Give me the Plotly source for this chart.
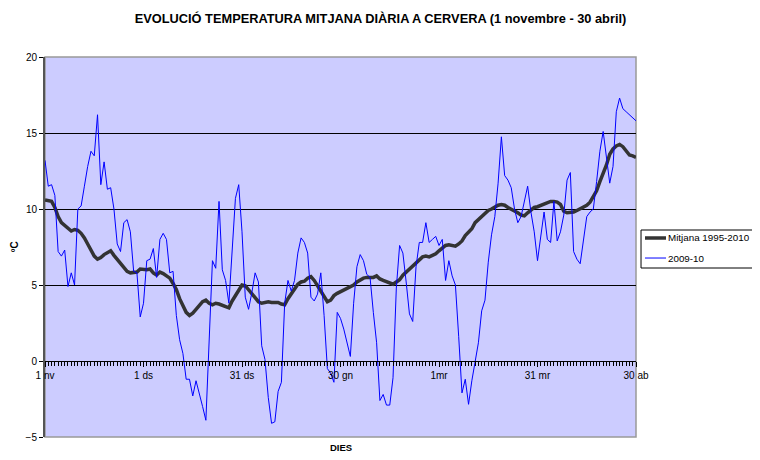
import plotly.graph_objects as go

days = list(range(181))

tick_days = [0, 30, 60, 90, 120, 150, 180]
tick_labels = ["1 nv", "1 ds", "31 ds", "30 gn", "1mr", "31 mr", "30 ab"]

series_names = ["Mitjana 1995-2010", "2009-10"]

mitjana = [
    10.6, 10.55, 10.5, 10.1, 9.5, 9.1, 8.9, 8.7, 8.55, 8.65,
    8.6, 8.4, 8.1, 7.7, 7.3, 6.9, 6.7, 6.8, 7.0, 7.15,
    7.25, 6.95, 6.7, 6.45, 6.15, 5.9, 5.8, 5.85, 5.85, 6.05,
    6.0, 6.0, 6.05, 5.8, 5.65, 5.85, 5.75, 5.6, 5.45, 5.1,
    4.7, 4.1, 3.6, 3.2, 3.0, 3.15, 3.4, 3.65, 3.9, 4.0,
    3.8, 3.7, 3.8, 3.75, 3.65, 3.55, 3.5, 3.95, 4.3, 4.6,
    5.0, 4.95, 4.7, 4.4, 4.15, 3.9, 3.8, 3.85, 3.9, 3.85,
    3.85, 3.85, 3.75, 3.7, 4.1, 4.45, 4.7, 5.05, 5.2, 5.25,
    5.45, 5.55, 5.3, 4.95, 4.5, 4.15, 3.9, 4.0, 4.3, 4.45,
    4.55, 4.7, 4.75, 4.9, 5.0, 5.2, 5.35, 5.45, 5.5, 5.5,
    5.5, 5.6, 5.4, 5.3, 5.2, 5.15, 5.05, 5.2, 5.35, 5.65,
    5.85, 6.0, 6.25, 6.45, 6.65, 6.85, 6.9, 6.85, 6.95, 7.05,
    7.25, 7.45, 7.6, 7.65, 7.6, 7.55, 7.7, 7.9, 8.25, 8.5,
    8.7, 9.1, 9.3, 9.45, 9.7, 9.9, 10.0, 10.15, 10.25, 10.3,
    10.25, 10.1, 10.0, 9.9, 9.75, 9.6, 9.55, 9.75, 9.95, 10.1,
    10.15, 10.25, 10.3, 10.45, 10.5, 10.5, 10.45, 10.3, 9.85, 9.75,
    9.75, 9.8, 9.9, 10.0, 10.1, 10.25, 10.45, 10.8, 11.2, 11.8,
    12.3, 12.9, 13.6, 13.95, 14.15, 14.25, 14.1, 13.8, 13.55, 13.5,
    13.4,
]

temp_2009_10 = [
    13.2, 11.5, 11.6, 10.9, 7.2, 6.9, 7.3, 4.9, 5.8, 5.0,
    10.0, 10.2, 11.5, 12.8, 13.8, 13.5, 16.2, 11.6, 13.1, 11.3,
    11.4, 10.0, 7.7, 7.2, 9.1, 9.3, 8.5, 5.9, 5.8, 2.9,
    3.8, 6.6, 6.7, 7.4, 5.5, 8.0, 8.4, 8.0, 5.8, 5.9,
    3.0, 1.4, 0.5, -1.2, -1.2, -2.3, -1.3, -2.1, -3.0, -3.9,
    1.2, 6.6, 6.1, 10.5, 6.0, 5.3, 3.8, 7.3, 10.7, 11.6,
    8.5, 4.2, 3.4, 4.5, 5.8, 5.2, 1.0, 0.1, -2.4, -4.1,
    -4.0, -2.0, -1.4, 3.8, 5.3, 4.6, 5.3, 7.1, 8.1, 7.8,
    7.1, 4.2, 3.95, 4.4, 5.8, 3.0, -0.5, -0.8, -1.4, 3.2,
    2.8, 2.1, 1.1, 0.3, 3.8, 6.2, 7.0, 6.6, 5.7, 5.5,
    3.2, 1.2, -2.6, -2.2, -2.9, -2.9, -1.1, 4.8, 7.6, 7.1,
    5.2, 3.1, 2.6, 6.2, 7.8, 7.8, 9.1, 7.8, 8.0, 8.2,
    7.6, 8.0, 5.3, 6.6, 5.6, 5.0, 1.6, -2.1, -1.2, -2.85,
    -1.3, 0.0, 1.2, 3.3, 4.0, 6.5, 8.3, 9.5, 11.7, 14.75,
    12.2, 11.9, 11.4, 10.0, 9.1, 9.5, 10.5, 11.5, 9.8, 8.5,
    6.6, 8.2, 9.8, 8.0, 7.8, 10.5, 7.9, 8.5, 9.6, 11.9,
    12.4, 7.2, 6.7, 6.4, 8.0, 9.5, 9.8, 10.0, 11.8, 13.8,
    15.1, 13.3, 11.7, 12.8, 16.4, 17.3, 16.6, 16.4, 16.2, 16.0,
    15.8,
]

FONT = "Liberation Sans, Arial, sans-serif"
COLORS = ["#333333", "#0000FF"]
WIDTHS = [3.5, 1]

fig = go.Figure()
for name, vals, col, w in zip(series_names, [mitjana, temp_2009_10], COLORS, WIDTHS):
    fig.add_trace(go.Scatter(
        x=days, y=vals, mode="lines", name=name,
        line=dict(color=col, width=w), showlegend=False,
    ))

# Legend drawn as a boxed key (Excel-style short line samples)
legend_shapes = [
    dict(type="rect", xref="paper", yref="paper", x0=1.0085, x1=1.22,
         y0=0.4447, y1=0.5447, line=dict(color="black", width=1),
         fillcolor="white", layer="above"),
]
legend_annots = []
item_y = [0.5237, 0.471]
for name, col, w, yy in zip(series_names, COLORS, WIDTHS, item_y):
    legend_shapes.append(dict(type="line", xref="paper", yref="paper",
                              x0=1.0152, x1=1.0508, y0=yy, y1=yy,
                              line=dict(color=col, width=w), layer="above"))
    legend_annots.append(dict(text=name, xref="paper", yref="paper",
                              x=1.0515, y=yy, xanchor="left", yanchor="middle",
                              showarrow=False,
                              font=dict(family=FONT, size=9.8, color="black")))

fig.update_layout(
    width=744, height=444,
    margin=dict(l=37, r=116, t=49, b=15, autoexpand=False),
    paper_bgcolor="white",
    plot_bgcolor="#CCCCFF",
    font=dict(family=FONT, size=10, color="black"),
    title=dict(
        text="<b>EVOLUCIÓ TEMPERATURA MITJANA DIÀRIA A CERVERA (1 novembre - 30 abril)</b>",
        x=0.5007, xanchor="center", y=0.977, yanchor="middle",
        font=dict(family=FONT, size=12.8, color="black"),
    ),
    showlegend=False,
    xaxis=dict(
        range=[0, 180],
        anchor="free", position=0.2,
        tickmode="array", tickvals=tick_days, ticktext=tick_labels,
        ticks="outside", ticklen=5, tickcolor="black",
        showgrid=False, zeroline=False,
        showline=True, linecolor="black", linewidth=1,
        tickfont=dict(family=FONT, size=10, color="black"),
        minor=dict(tickmode="array", tickvals=days, ticks="outside",
                   ticklen=4, tickcolor="black", showgrid=False),
    ),
    yaxis=dict(
        range=[-5, 20], tickmode="linear", tick0=-5, dtick=5,
        ticks="outside", ticklen=4, tickcolor="black",
        showgrid=True, gridcolor="black", gridwidth=1,
        zeroline=False,
        showline=True, linecolor="#555555", linewidth=2,
        tickfont=dict(family=FONT, size=10, color="black"),
    ),
    shapes=[
        dict(type="rect", xref="paper", yref="paper", x0=0, x1=1, y0=0, y1=1,
             line=dict(color="#999999", width=1.5), fillcolor="rgba(0,0,0,0)",
             layer="below"),
    ] + legend_shapes,
    annotations=[
        dict(text="<b>ºC</b>", xref="paper", yref="paper", x=-0.052, y=0.5,
             xanchor="center", yanchor="middle", textangle=-90, showarrow=False,
             font=dict(family=FONT, size=10, color="black")),
        dict(text="<b>DIES</b>", xref="paper", yref="paper", x=0.5, y=-0.028,
             xanchor="center", yanchor="middle", showarrow=False,
             font=dict(family=FONT, size=9.5, color="black")),
    ] + legend_annots,
)

fig.write_html("out.html")
